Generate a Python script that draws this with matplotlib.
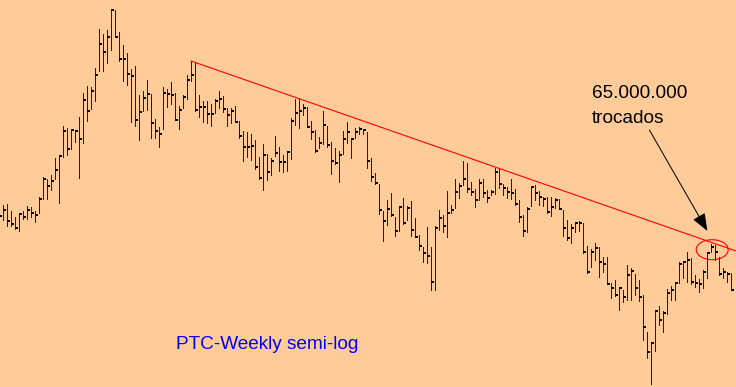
import matplotlib
matplotlib.use('Agg')
import matplotlib.pyplot as plt
from matplotlib.patches import Ellipse
import numpy as np

# Weekly OHLC-style bars (high / low / close), semi-log chart, arbitrary price units
high = [179, 182, 183, 176, 169.7, 174.3, 176, 181, 180.3, 176,
        190.3, 209.7, 208.3, 212, 229, 232, 261, 258.7, 257.7, 257,
        270, 293.7, 301, 300.3, 318.7, 358, 353, 357, 377.7, 377,
        355, 342, 334, 318.5, 321, 292, 296, 307, 292.8, 267.8,
        260.2, 299.8, 298, 305, 294.3, 281, 292.5, 311.8, 326, 324,
        292, 286.5, 286, 282.7, 287.7, 296, 291, 279.5, 279.5, 281,
        265.8, 256, 255.3, 253, 247, 230.3, 243, 232.7, 229.3, 251,
        239.7, 232, 236.3, 268.7, 288, 288, 283.3, 280.3, 266.3, 257,
        250, 276.3, 261, 245, 239.3, 236, 256, 264.7, 249.3, 259,
        259.7, 258, 255, 229, 214, 203, 176, 186.7, 194, 169.7,
        180.3, 188.7, 181, 186, 169, 152, 139.7, 160.3, 140.3, 161,
        177, 172, 196, 182, 207.7, 203.7, 226, 224.3, 205.3, 198,
        207.7, 207.7, 197, 197, 219.3, 218.7, 203, 199.7, 207.7, 197.7,
        187, 172, 179.7, 201, 202, 196.3, 189.7, 189.7, 189.7, 188.7,
        187.7, 177, 167, 163, 165.3, 166.3, 164.3, 141, 137.7, 144.3,
        139.7, 129.7, 130.3, 103.7, 107, 98.7, 97, 122, 118.7, 112.7,
        107, 92, 54.7, 44.7, 76, 81, 76, 98, 101, 104.7,
        124.7, 126, 134.7, 129.3, 112, 108, 117, 134.7, 142.7, 142,
        130.3, 118.7, 115.3, 114.3]
low = [165, 167, 161.3, 161.3, 158, 156.3, 167.7, 167.7, 170.3, 165.3,
       173.7, 187.7, 187.7, 197, 208, 184.3, 229.7, 232.3, 238.3, 245.3,
       209.3, 244.3, 266, 277.7, 286.3, 316.3, 316.3, 324.3, 337, 349.7,
       326, 306, 302, 265, 261.3, 247.5, 276, 277, 249.3, 248.7,
       240.3, 257.7, 280.3, 283, 267, 258.5, 279, 288.5, 306, 276,
       270.3, 264.7, 264.5, 261.3, 273.7, 279, 275, 261.3, 264, 265.3,
       249.5, 226.5, 230, 227, 217.7, 208, 197, 207, 212, 231.3,
       215.7, 215.3, 216.3, 228.3, 261.7, 258.7, 272, 260.3, 247.7, 234.7,
       239.3, 243.3, 240.3, 213, 223, 205.3, 233.3, 243.7, 228.7, 249.3,
       252.7, 252.7, 219.3, 205.7, 202.7, 173.3, 146.3, 162.3, 170.7, 151.3,
       156.3, 163.3, 167.3, 151.3, 150.3, 137, 124.7, 123.7, 97, 97,
       157, 154.7, 150.3, 173.7, 178.7, 188.7, 202, 195.3, 192, 180.3,
       187, 190.3, 185.3, 191.7, 193, 198.7, 192, 188.7, 187.7, 182,
       165.3, 151.3, 154.7, 181, 187, 182, 181, 173.7, 171, 179.3,
       178, 151.3, 147, 144.3, 155.3, 156, 133.7, 113.7, 120.3, 127,
       110.3, 115.3, 103, 88.7, 91, 77, 85.3, 87, 87, 92,
       86, 47, 29.3, 3.3, 36, 62, 55.3, 72.7, 87, 87,
       103.7, 108.7, 104.7, 102.7, 100.3, 95.3, 98.7, 108.7, 134.7, 127,
       112, 108.7, 105.3, 97]
close = [171.3, 177.3, 166.3, 163.3, 159.3, 173.3, 170.3, 177.3, 174.3, 172.3,
         188.3, 208.3, 201, 206.3, 217, 231, 256.3, 238.3, 257.3, 256,
         248.3, 287.3, 276, 296, 312.3, 342.7, 334.7, 350.3, 377, 350.3,
         328, 328, 313.5, 311.3, 267.5, 275, 289.3, 293.2, 264.3, 256.3,
         253.3, 294.3, 293.3, 292.5, 267.5, 277.3, 290.3, 307.3, 312.3, 277.3,
         280.2, 280.2, 272.8, 272.9, 286.3, 287.7, 278.2, 271.7, 276.2, 265.5,
         251, 240.5, 240.3, 241.5, 220.3, 209.3, 232, 215.3, 226.3, 234.3,
         225.3, 225.3, 234.7, 266.3, 273.7, 276.3, 279.3, 260.3, 255.3, 236,
         244.3, 262.3, 242, 226.3, 224, 232, 248.3, 255, 247.7, 255,
         258, 256.7, 226.3, 210.3, 204, 177.3, 166.3, 178.3, 172, 156.3,
         180, 164.3, 179.3, 157.3, 150.3, 141.3, 134.3, 131, 105.3, 159.3,
         169.3, 161.3, 174.3, 177, 195.3, 201, 208.3, 198.3, 195.3, 187,
         204.3, 194.3, 189.3, 195.3, 215, 203.3, 199.3, 195, 193.7, 182.7,
         170.3, 156.3, 178.3, 200.3, 194.3, 190.3, 188.3, 175, 180.3, 187.3,
         178.3, 159.3, 149.3, 159.3, 163.7, 163.7, 135.3, 115.3, 135.3, 139.3,
         125.3, 122.7, 103, 98.7, 92, 98.7, 90.3, 112, 116.3, 99.3,
         90.3, 60.3, 35.3, 43.7, 76, 67, 74.3, 94, 97, 104,
         123, 124.7, 127.3, 104.7, 104, 103, 115.3, 133.7, 140, 135.3,
         113, 115.3, 113.3, 97]
first_week = -1

# Annotations
trend_start = (47, 326)
trend_end = (183.25, 136)
circle_center = (177.3, 137.3)
note_lines = ["65.000.000", "trocados"]
title = "PTC-Weekly semi-log"

weeks = np.arange(first_week, first_week + len(close))

BG = '#FFCC99'
fig = plt.figure(figsize=(7.36, 3.87), dpi=100)
fig.patch.set_facecolor(BG)
ax = fig.add_axes([0, 0, 1, 1])
ax.set_facecolor(BG)
ax.set_xlim(-0.75, 183.25)
ax.set_ylim(0, 387)
ax.axis('off')

ax.vlines(weeks, low, high, colors='#0000FF', linewidths=0.72, antialiased=False)
ax.hlines(close, weeks + 0.05, weeks + 0.75, colors='#000000', linewidths=1.44,
          antialiased=False)

ax.plot([trend_start[0], trend_end[0]], [trend_start[1], trend_end[1]],
        color='#FF0000', lw=0.8)
ax.add_patch(Ellipse(circle_center, 8, 20, fill=False, edgecolor='#FF0000', lw=0.8))

ax.annotate('', xy=(176.1, 156), xytext=(161.6, 257),
            arrowprops=dict(arrowstyle='-|>,head_length=0.9,head_width=0.35',
                            color='black', lw=0.72, mutation_scale=12,
                            shrinkA=0, shrinkB=0))

ax.text(147.25, 288.7, note_lines[0], fontsize=13.7, family='Liberation Sans',
        color='black', va='baseline', ha='left')
ax.text(147.25, 263.7, note_lines[1], fontsize=13.7, family='Liberation Sans',
        color='black', va='baseline', ha='left')
ax.text(43.25, 37.7, title, fontsize=13.7, family='Liberation Sans',
        color='#0000FF', va='baseline', ha='left')

fig.savefig('out.png', dpi=100, facecolor=BG)
